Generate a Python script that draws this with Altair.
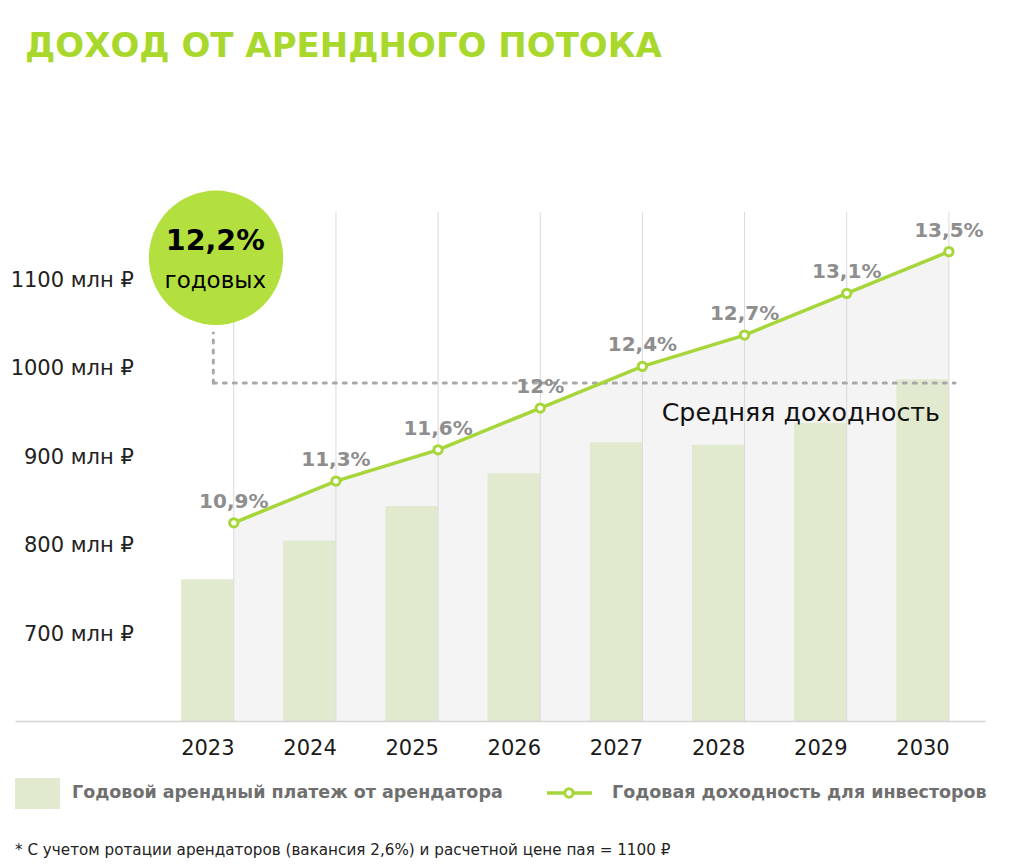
import altair as alt
import pandas as pd

# ---- data ----
YEARS = [2023, 2024, 2025, 2026, 2027, 2028, 2029, 2030]
RENT = [762, 806, 845, 882, 917, 914, 939, 988]          # млн ₽ (bars)
YIELD = [10.9, 11.3, 11.6, 12.0, 12.4, 12.7, 13.1, 13.5]  # % (line)
YIELD_LABELS = ["10,9%", "11,3%", "11,6%", "12%", "12,4%", "12,7%", "13,1%", "13,5%"]
Y_TICKS = [700, 800, 900, 1000, 1100]
AVG_YIELD = 12.24
AVG_LABEL = "12,2%"
AVG_SUB = "годовых"
AVG_TEXT = "Средняя доходность"
TITLE = "ДОХОД ОТ АРЕНДНОГО ПОТОКА"
LEGEND_LABELS = ["Годовой арендный платеж от арендатора", "Годовая доходность для инвесторов"]
FOOTNOTE = "* С учетом ротации арендаторов (вакансия 2,6%) и расчетной цене пая = 1100 ₽"

df = pd.DataFrame({"year": YEARS, "rent": RENT, "yield": YIELD, "label": YIELD_LABELS})

# ---- styling / layout ----
W, H = 970, 509
X_DOMAIN = [2021.166, 2030.563]
RENT_DOMAIN = [602, 1177]
PCT_DOMAIN = [9.0, 13.88]
OFF = 26.4
FONT = "DejaVu Sans"
LIME = "#a6d63a"
BADGE = "#b3e03f"
BAR = "#e1eacf"
AREA = "#f4f4f4"
GRID = "#dadada"
LABEL_GRAY = "#8e8e8e"
DASH_GRAY = "#a8a8a8"

x_scale = alt.Scale(domain=X_DOMAIN, nice=False, zero=False)
pct_scale = alt.Scale(domain=PCT_DOMAIN, nice=False, zero=False)
rent_scale = alt.Scale(domain=RENT_DOMAIN, nice=False, zero=False)

x_axis = alt.Axis(
    values=YEARS, format="d", domain=True, domainColor="#d4d4d4", domainWidth=1.5,
    ticks=False, tickSize=0, grid=False, labelPadding=27, labelBaseline="middle",
    labelFontSize=21, labelColor="#1a1a1a", labelFont=FONT, title=None,
    labelFlush=False, labelOverlap=False, zindex=2)
xq = alt.X("year:Q", scale=x_scale, axis=x_axis)
ypct = alt.Y("yield:Q", scale=pct_scale, axis=None)

base = alt.Chart(df)

area = base.mark_area(color=AREA, xOffset=OFF).encode(
    x=xq, y=ypct, y2=alt.datum(PCT_DOMAIN[0]))

bars = base.mark_bar(width=52.5, color=BAR).encode(
    x=xq,
    y=alt.Y("rent:Q", scale=rent_scale, axis=alt.Axis(
        values=Y_TICKS, labelExpr="datum.value + ' млн ₽'", domain=False, ticks=False,
        tickSize=0, grid=False, labelAlign="right", labelBaseline="middle", offset=-118.3,
        labelPadding=0, labelFontSize=21, labelColor="#222222", labelFont=FONT, title=None)),
    y2=alt.datum(RENT_DOMAIN[0]),
)

grid = base.mark_rule(xOffset=OFF, color=GRID, strokeWidth=1).encode(x=xq)

avg_df = pd.DataFrame({"avg": [AVG_YIELD]})
avg_h = alt.Chart(avg_df).mark_rule(
    color=DASH_GRAY, strokeWidth=3, strokeDash=[3, 7], strokeCap="round"
).encode(x=alt.value(198.3), x2=alt.value(940),
         y=alt.Y("avg:Q", scale=pct_scale, axis=None))
avg_v = alt.Chart(avg_df).mark_rule(
    color=DASH_GRAY, strokeWidth=3, strokeDash=[3, 7], strokeCap="round"
).encode(x=alt.value(198.3), y=alt.Y("avg:Q", scale=pct_scale, axis=None), y2=alt.value(121))

avg_text = alt.Chart(avg_df.assign(t=[AVG_TEXT])).mark_text(
    align="left", baseline="middle", fontSize=25.3, font=FONT, color="#111111", dy=30
).encode(x=alt.value(646.7), y=alt.Y("avg:Q", scale=pct_scale, axis=None), text="t:N")

line = base.mark_line(xOffset=OFF, color=LIME, strokeWidth=3.5).encode(x=xq, y=ypct)
points = base.mark_point(
    xOffset=OFF, filled=True, fill="white", stroke=LIME, strokeWidth=3, size=70, opacity=1
).encode(x=xq, y=ypct)
labels = base.mark_text(
    xOffset=OFF, dy=-21, fontSize=20, fontWeight="bold", color=LABEL_GRAY, font=FONT
).encode(x=xq, y=ypct, text="label:N")

badge = alt.Chart(pd.DataFrame({"v": [0]})).mark_circle(
    size=18050, color=BADGE, opacity=1
).encode(x=alt.value(201), y=alt.value(45.8))
badge_t1 = alt.Chart(pd.DataFrame({"t": [AVG_LABEL]})).mark_text(
    fontSize=28.5, fontWeight="bold", font=FONT, color="#000000", baseline="middle"
).encode(x=alt.value(200.3), y=alt.value(28.7), text="t:N")
badge_t2 = alt.Chart(pd.DataFrame({"t": [AVG_SUB]})).mark_text(
    fontSize=23, font=FONT, color="#000000", baseline="middle"
).encode(x=alt.value(200.3), y=alt.value(69), text="t:N")

title = alt.Chart(pd.DataFrame({"t": [TITLE]})).mark_text(
    fontSize=34, fontWeight="bold", font=FONT, color="#a9d82c", align="left", baseline="middle"
).encode(x=alt.value(10), y=alt.value(-165), text="t:N")

leg_rect = alt.Chart(pd.DataFrame({"v": [0]})).mark_rect(color=BAR).encode(
    x=alt.value(0), x2=alt.value(45), y=alt.value(566), y2=alt.value(597))
leg_t1 = alt.Chart(pd.DataFrame({"t": [LEGEND_LABELS[0]]})).mark_text(
    fontSize=17.5, fontWeight="bold", font=FONT, color="#6f6f6f", align="left", baseline="middle"
).encode(x=alt.value(57), y=alt.value(581), text="t:N")
leg_line = alt.Chart(pd.DataFrame({"v": [0]})).mark_rule(color=LIME, strokeWidth=3.5).encode(
    x=alt.value(532), x2=alt.value(577), y=alt.value(581))
leg_pt = alt.Chart(pd.DataFrame({"v": [0]})).mark_point(
    filled=True, fill="white", stroke=LIME, strokeWidth=3, size=70, opacity=1
).encode(x=alt.value(554), y=alt.value(581))
leg_t2 = alt.Chart(pd.DataFrame({"t": [LEGEND_LABELS[1]]})).mark_text(
    fontSize=17.5, fontWeight="bold", font=FONT, color="#6f6f6f", align="left", baseline="middle"
).encode(x=alt.value(597), y=alt.value(581), text="t:N")

foot = alt.Chart(pd.DataFrame({"t": [FOOTNOTE]})).mark_text(
    fontSize=15.2, font=FONT, color="#222222", align="left", baseline="middle"
).encode(x=alt.value(0), y=alt.value(638), text="t:N")

chart = alt.layer(
    area, bars, grid, avg_h, avg_v, avg_text, line, points, labels,
    badge, badge_t1, badge_t2, title, leg_rect, leg_t1, leg_line, leg_pt, leg_t2, foot
).resolve_scale(y="independent").properties(
    width=W, height=H,
    autosize=alt.AutoSizeParams(type="none"),
    padding={"left": 7, "top": 204, "right": 10, "bottom": 138},
).configure_view(stroke=None)

chart.save("out.html", embed_options={"renderer": "svg", "actions": False})
